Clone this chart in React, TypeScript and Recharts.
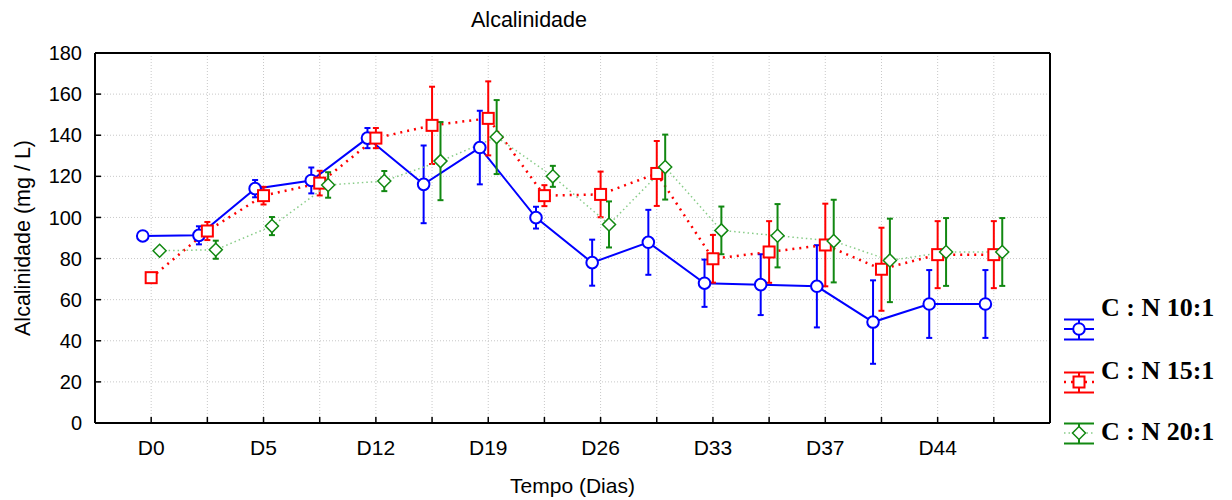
import { LineChart, Line, XAxis, YAxis, CartesianGrid, ErrorBar, ReferenceLine, Label } from 'recharts';

// sampling days: 16 collections, only every second one is labelled on the axis
const dayLabels = ['D0', 'D5', 'D12', 'D19', 'D26', 'D33', 'D37', 'D44'];
const sampleIndex = [0, 1, 2, 3, 4, 5, 6, 7, 8, 9, 10, 11, 12, 13, 14, 15];

// mean alkalinity (mg/L) and its error, per C:N ratio
const cn10 = [91.0, 91.3, 114.0, 118.0, 138.6, 116.1, 134.0, 99.9, 78.0, 87.9, 68.0, 67.3, 66.5, 49.1, 57.9, 57.9];
const cn10Err = [null, 4.4, 4.2, 6.3, 4.9, 18.9, 17.9, 5.3, 11.2, 15.8, 11.5, 14.8, 20.0, 20.3, 16.5, 16.5];
const cn15 = [70.7, 93.4, 110.6, 116.7, 138.6, 144.8, 148.2, 110.6, 111.2, 121.4, 79.9, 83.2, 86.6, 74.8, 81.9, 81.9];
const cn15Err = [null, 4.4, 4.3, 6.0, 4.9, 18.8, 18.0, 5.1, 11.1, 15.8, 11.6, 15.0, 20.1, 20.2, 16.3, 16.3];
const cn20 = [83.8, 84.3, 95.8, 115.8, 117.7, 127.4, 139.1, 120.0, 96.6, 124.5, 93.7, 91.1, 88.5, 79.1, 83.2, 83.2];
const cn20Err = [null, 4.4, 4.4, 6.2, 4.9, 19.0, 18.0, 5.1, 11.2, 15.8, 11.6, 15.4, 20.1, 20.3, 16.5, 16.5];

const yTicks = [0, 20, 40, 60, 80, 100, 120, 140, 160, 180];

const FONT = '"Liberation Sans", Arial, sans-serif';

function build(values: number[], errors: (number | null)[], shift: number) {
  return sampleIndex.map((i, k) => ({ x: i + shift, y: values[k], err: errors[k] }));
}

const series = [
  { name: 'C : N 10:1', data: build(cn10, cn10Err, -0.15), color: '#0000ff', lineColor: '#0000ff', dash: undefined, width: 2, shape: 'circle' },
  { name: 'C : N 15:1', data: build(cn15, cn15Err, 0), color: '#ff0000', lineColor: '#ff0000', dash: '2 5', width: 2.5, shape: 'square' },
  { name: 'C : N 20:1', data: build(cn20, cn20Err, 0.15), color: '#118811', lineColor: '#88cc88', dash: '1.5 3', width: 1.5, shape: 'diamond' },
];

function Marker({ cx, cy, shape, color }: any) {
  if (cx == null || cy == null) return null;
  if (shape === 'circle') {
    return <circle cx={cx} cy={cy} r={5.8} fill="#fff" stroke={color} strokeWidth={2} />;
  }
  if (shape === 'square') {
    return <rect x={cx - 5.5} y={cy - 5.5} width={11} height={11} fill="#fff" stroke={color} strokeWidth={2} />;
  }
  const d = 6.5;
  return (
    <polygon
      points={`${cx},${cy - d} ${cx + d},${cy} ${cx},${cy + d} ${cx - d},${cy}`}
      fill="#fff"
      stroke={color}
      strokeWidth={1.5}
    />
  );
}

function LegendIcon({ s }: { s: any }) {
  return (
    <svg width={32} height={24} style={{ display: 'block' }}>
      <line x1={1} y1={11} x2={31} y2={11} stroke={s.lineColor} strokeWidth={s.width} strokeDasharray={s.dash} />
      <line x1={1} y1={1.5} x2={31} y2={1.5} stroke={s.color} strokeWidth={2} />
      <line x1={1} y1={21.5} x2={31} y2={21.5} stroke={s.color} strokeWidth={2} />
      <line x1={16} y1={1.5} x2={16} y2={21.5} stroke={s.color} strokeWidth={2} />
      <Marker cx={16} cy={11} shape={s.shape} color={s.color} />
    </svg>
  );
}

const legendIconTop = [318, 371, 422];
const legendTextTop = [292, 355, 416];

export default function App() {
  return (
    <div style={{ position: 'fixed', left: 0, top: 0, width: 1232, height: 500, background: '#fff' }}>
      <div
        style={{
          position: 'absolute', left: 0, top: 7, width: 1058, textAlign: 'center',
          fontFamily: FONT, fontSize: 21.5, lineHeight: '26px', color: '#000',
        }}
      >
        Alcalinidade
      </div>
      <LineChart width={1232} height={500} margin={{ top: 53, right: 182, left: 0, bottom: 0 }}>
        <CartesianGrid stroke="#c8c8c8" strokeDasharray="1 2" />
        <XAxis
          type="number"
          dataKey="x"
          domain={[-1, 16]}
          ticks={sampleIndex}
          interval={0}
          height={77}
          allowDataOverflow
          tickFormatter={(v: number) => (v % 2 === 0 ? dayLabels[v / 2] : '')}
          tick={{ fill: '#000', fontSize: 21, fontFamily: FONT }}
          tickSize={-6}
          tickMargin={23}
          axisLine={{ stroke: '#000', strokeWidth: 2 }}
          tickLine={{ stroke: '#000', strokeWidth: 1.5 }}
        >
          <Label value="Tempo (Dias)" position="insideBottom" offset={7} style={{ fill: '#000', fontSize: 21, fontFamily: FONT }} />
        </XAxis>
        <YAxis
          type="number"
          domain={[0, 180]}
          ticks={yTicks}
          width={95}
          allowDataOverflow
          tick={{ fill: '#000', fontSize: 20, fontFamily: FONT }}
          tickSize={-6}
          tickMargin={19}
          axisLine={{ stroke: '#000', strokeWidth: 2 }}
          tickLine={{ stroke: '#000', strokeWidth: 1.5 }}
        >
          <Label
            value="Alcalinidade (mg / L)"
            angle={-90}
            position="insideLeft"
            offset={22}
            style={{ textAnchor: 'middle', fill: '#000', fontSize: 21.5, fontFamily: FONT }}
          />
        </YAxis>
        <ReferenceLine y={180} stroke="#000" strokeWidth={2} />
        <ReferenceLine x={16} stroke="#000" strokeWidth={2} />
        {series.map((s) => (
          <Line
            key={s.name}
            data={s.data}
            dataKey="y"
            name={s.name}
            stroke={s.lineColor}
            strokeWidth={s.width}
            strokeDasharray={s.dash}
            isAnimationActive={false}
            dot={(p: any) => <Marker key={`${s.name}-${p.index}`} cx={p.cx} cy={p.cy} shape={s.shape} color={s.color} />}
            activeDot={false}
          >
            <ErrorBar dataKey="err" direction="y" width={3} stroke={s.color} strokeWidth={2} />
          </Line>
        ))}
      </LineChart>
      {series.map((s, i) => (
        <div key={s.name}>
          <div style={{ position: 'absolute', left: 1063, top: legendIconTop[i] }}>
            <LegendIcon s={s} />
          </div>
          <div
            style={{
              position: 'absolute', left: 1101, top: legendTextTop[i], whiteSpace: 'nowrap',
              fontFamily: '"Liberation Serif", "Times New Roman", serif', fontWeight: 'bold',
              fontSize: 26, lineHeight: '32px', color: '#000',
            }}
          >
            {s.name}
          </div>
        </div>
      ))}
    </div>
  );
}
